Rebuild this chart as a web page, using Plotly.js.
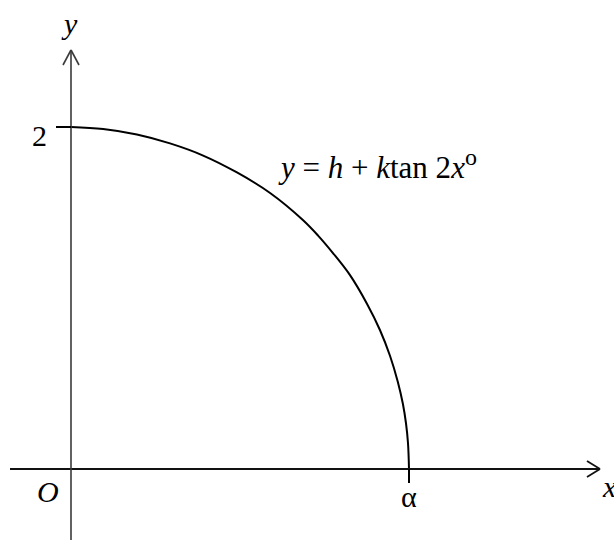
<!DOCTYPE html>
<html>
<head>
<meta charset="utf-8">
<script src="https://cdn.plot.ly/plotly-3.0.1.min.js"></script>
<style>
  html, body { margin: 0; padding: 0; background: #ffffff; }
  #chart { width: 614px; height: 542px; }
</style>
</head>
<body>
<div id="chart"></div>
<script>
// Curve y = h + k tan 2x°, x measured in units of alpha (x = 1 at alpha), y from 2 down to 0
const curveX = [0, 0.095, 0.195, 0.293, 0.391, 0.491, 0.589, 0.686, 0.731, 0.775, 0.825, 0.876, 0.914, 0.944, 0.967, 0.982, 0.991, 0.997, 1.0];
const curveY = [2.0, 1.988, 1.956, 1.904, 1.833, 1.734, 1.614, 1.456, 1.365, 1.263, 1.135, 0.965, 0.813, 0.661, 0.509, 0.380, 0.269, 0.152, 0.0];

const alphaX = 1.0;     // position of alpha on the x-axis
const topY = 2;         // marked y-intercept
const tickLabels = { alpha: 'α', y: '2', origin: 'O' };
const equation = '<i>y</i> = <i>h</i> + <i>k</i>tan 2<i>x</i><sup><span style="font-size:24px">o</span></sup>';

const W = 614, H = 542;
// pixel position of the origin and scale of each axis
const ox = 71, oy = 469, sx = 338, sy = 171;
const xRange = [-ox / sx, (W - ox) / sx];
const yRange = [(oy - H) / sy, oy / sy];

// paper coordinates from pixel positions
const px = v => v / W;
const py = v => 1 - v / H;

const axisLine = { color: '#3a3a3a', width: 1.6 };
const xAxisLine = { color: '#111111', width: 1.8 };

const shapes = [
  // x-axis with open arrowhead
  { type: 'line', xref: 'paper', yref: 'paper', x0: px(10), y0: py(oy), x1: px(599), y1: py(oy), line: xAxisLine },
  { type: 'line', xref: 'paper', yref: 'paper', x0: px(587), y0: py(oy - 8), x1: px(600), y1: py(oy), line: xAxisLine },
  { type: 'line', xref: 'paper', yref: 'paper', x0: px(587), y0: py(oy + 8), x1: px(600), y1: py(oy), line: xAxisLine },
  // y-axis with open arrowhead
  { type: 'line', xref: 'paper', yref: 'paper', x0: px(ox), y0: py(540), x1: px(ox), y1: py(51), line: axisLine },
  { type: 'line', xref: 'paper', yref: 'paper', x0: px(ox - 8), y0: py(65), x1: px(ox), y1: py(50), line: axisLine },
  { type: 'line', xref: 'paper', yref: 'paper', x0: px(ox + 8), y0: py(65), x1: px(ox), y1: py(50), line: axisLine },
  // tick at y = 2
  { type: 'line', xref: 'paper', yref: 'y', x0: px(56), y0: topY, x1: px(ox), y1: topY, line: { color: '#000', width: 2 } },
  // tick at alpha
  { type: 'line', xref: 'x', yref: 'paper', x0: alphaX, y0: py(oy), x1: alphaX, y1: py(483), line: { color: '#000', width: 2 } }
];

const serif = '"Liberation Serif", "Times New Roman", serif';
const label = (extra) => Object.assign({ showarrow: false, xanchor: 'center', yanchor: 'middle' }, extra);

const annotations = [
  label({ xref: 'paper', yref: 'paper', x: px(69), y: py(24), text: '<i>y</i>',
    font: { family: serif, size: 30, color: '#000' } }),
  label({ xref: 'paper', yref: 'paper', x: px(609), y: py(486), text: '<i>x</i>',
    font: { family: serif, size: 30, color: '#000' } }),
  label({ xref: 'paper', yref: 'y', x: px(39), y: topY, yshift: -8, text: tickLabels.y,
    font: { family: serif, size: 30, color: '#000' } }),
  label({ xref: 'paper', yref: 'paper', x: px(48), y: py(491), text: '<i>' + tickLabels.origin + '</i>',
    font: { family: serif, size: 30, color: '#000' } }),
  label({ xref: 'x', yref: 'paper', x: alphaX, y: py(496), text: tickLabels.alpha,
    font: { family: serif, size: 30, color: '#000' } }),
  label({ xref: 'paper', yref: 'paper', x: px(377), y: py(164), text: equation,
    font: { family: serif, size: 31, color: '#000' } })
];

const trace = {
  x: curveX, y: curveY, type: 'scatter', mode: 'lines',
  line: { color: '#000', width: 2, shape: 'spline', smoothing: 1 },
  hoverinfo: 'skip'
};

const hiddenAxis = { showgrid: false, zeroline: false, showticklabels: false, ticks: '', showline: false, fixedrange: true };

Plotly.newPlot('chart', [trace], {
  width: W, height: H,
  margin: { l: 0, r: 0, t: 0, b: 0 },
  paper_bgcolor: '#ffffff', plot_bgcolor: 'rgba(0,0,0,0)',
  showlegend: false,
  xaxis: Object.assign({ range: xRange }, hiddenAxis),
  yaxis: Object.assign({ range: yRange }, hiddenAxis),
  shapes: shapes,
  annotations: annotations
}, { staticPlot: true, displayModeBar: false });
</script>
</body>
</html>
